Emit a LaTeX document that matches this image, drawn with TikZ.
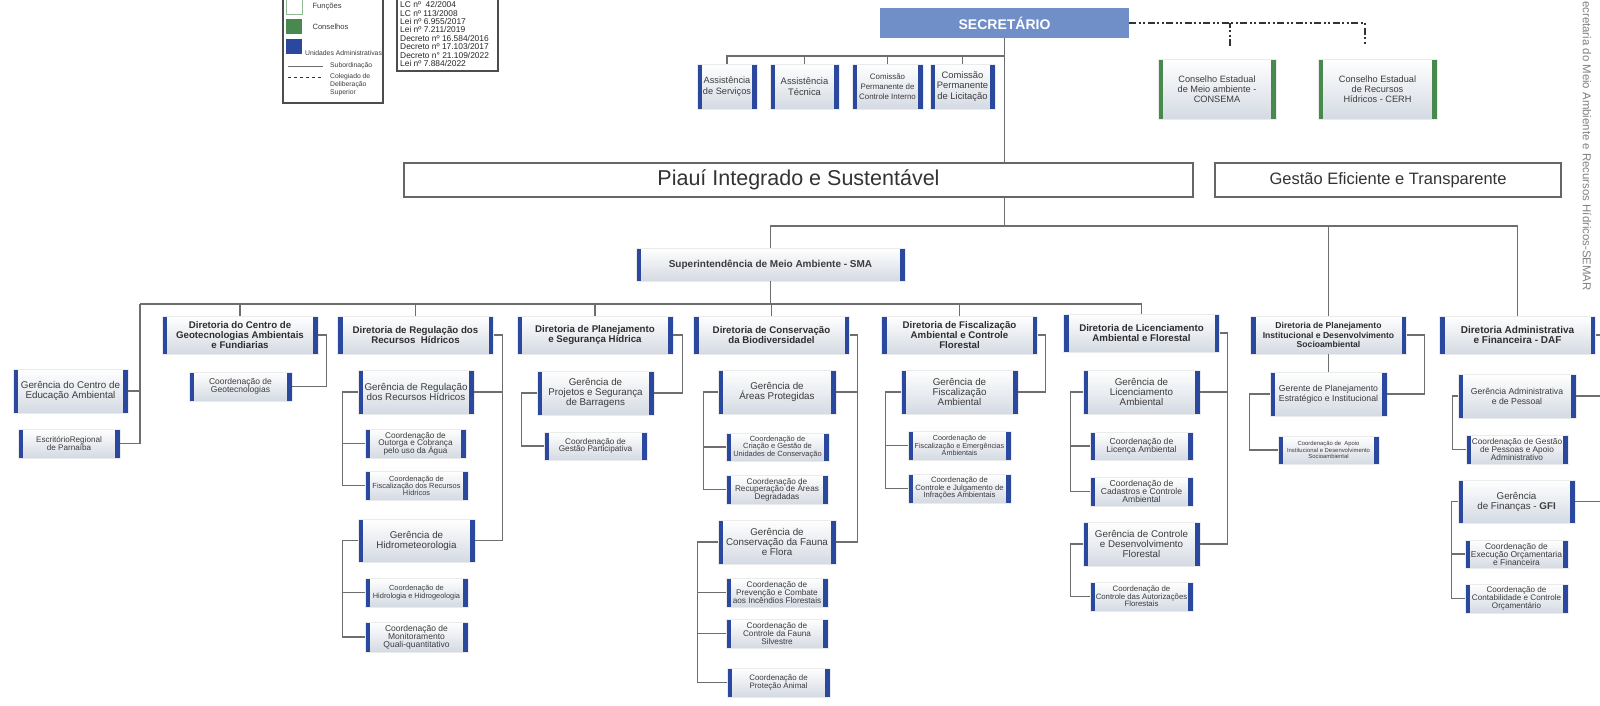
\documentclass[tikz,border=0pt]{standalone}
\usepackage{fontspec}
\setmainfont{Liberation Sans}
\usetikzlibrary{calc}

\definecolor{barblue}{RGB}{42,72,158}
\definecolor{bargreen}{RGB}{72,138,78}
\definecolor{secblue}{RGB}{112,142,200}
\definecolor{boxshade}{RGB}{212,218,227}
\definecolor{txtgray}{RGB}{60,60,60}
\definecolor{linegray}{RGB}{110,110,110}

\newcommand\cfs[2]{\fontsize{#1}{#2}\selectfont}
\newcommand\dirfont{\fontsize{9.7}{10.3}\selectfont\bfseries}
\newcommand\gerfont{\fontsize{9.8}{10}\selectfont}
\newcommand\coofont{\fontsize{8.2}{7.6}\selectfont}
\lineskiplimit=-50pt

\tikzset{
  link/.style={draw=linegray, line width=1.3pt},
  colleg/.style={draw=black!80, line width=2pt, dash pattern=on 7pt off 2.5pt on 2pt off 2.5pt on 2pt off 2.5pt},
  sz/.style 2 args={minimum width=#1pt, minimum height=#2pt},
  unit/.style={rectangle, inner sep=0pt, align=center, text=txtgray,
    top color=white, bottom color=boxshade, draw=black!8, line width=0.5pt,
    path picture={
      \fill[#1] (path picture bounding box.north west) rectangle ([xshift=5pt]path picture bounding box.south west);
      \fill[#1] (path picture bounding box.north east) rectangle ([xshift=-5pt]path picture bounding box.south east);
    }},
  unit/.default=barblue,
  dir/.style={unit, sz={156}{38}, font=\dirfont, text=black!82},
  ger/.style={unit, sz={117}{44}, font=\gerfont},
  coo/.style={unit, sz={103}{29}, font=\coofont},
  frame/.style={draw=black!70, line width=1.3pt, fill=white},
  bigbox/.style={draw=black!60, line width=1.1pt, fill=white, inner sep=0pt, text=black!80}
}

\begin{document}
\begin{tikzpicture}[x=1pt, y=-1pt]
\useasboundingbox (0,0) rectangle (1600,705);
\fill[white] (0,0) rectangle (1600,705);

%%%%% LEGENDA %%%%%
\draw[frame] (283,-20) rectangle (383,103);
\node[draw=bargreen!60, fill=white, line width=0.8pt, sz={16}{15}, inner sep=0pt] (sqfun) at (294,7) {};
\node[fill=bargreen, sz={16}{15}, inner sep=0pt] (sqcon) at (294,26.5) {};
\node[fill=barblue, sz={16}{15}, inner sep=0pt] (squni) at (294,46) {};
\node[anchor=west, font=\cfs{7.6}{8}, text=txtgray] (lfun) at (309,7) {Funções};
\node[anchor=west, font=\cfs{7.6}{8}, text=txtgray] (lcon) at (309,27) {Conselhos};
\node[anchor=west, font=\cfs{6.8}{7}, text=txtgray, inner sep=0pt] (luni) at (305,53) {Unidades Administrativas};
\draw[linegray, line width=0.8pt] (288,66) -- (323,66);
\node[anchor=west, font=\cfs{6.8}{7}, text=txtgray, inner sep=0pt] (lsub) at (330,66) {Subordinação};
\draw[black!80, line width=0.8pt, dashed] (288,77) -- (323,77);
\node[anchor=north west, align=left, font=\cfs{6.8}{8.3}, text=txtgray, inner sep=0pt] (lcol) at (330,73) {Colegiado de\\Deliberação\\Superior};

%%%%% LEGISLACAO %%%%%
\draw[frame] (397,-20) rectangle (498,71);
\node[anchor=north west, align=left, inner sep=0pt, font=\cfs{8.4}{8.4}, text=black!85] (leis) at (400,1.5)
  {LC nº\ \ 42/2004\\LC nº 113/2008\\Lei nº 6.955/2017\\Lei nº 7.211/2019\\Decreto nº 16.584/2016\\Decreto nº 17.103/2017\\Decreto n° 21.109/2022\\Lei nº 7.884/2022};

%%%%% SECRETARIO %%%%%
\node[fill=secblue, text=white, font=\cfs{14}{14}\bfseries, sz={249}{30}, inner sep=0pt] (sec) at (1004.5,23) {SECRETÁRIO};

\node[unit, sz={60}{45}, font=\cfs{9.2}{10.6}] (asserv) at (727,86.5) {Assistência\\de Serviços};
\node[unit, sz={69}{45}, font=\cfs{9.4}{10.6}] (asstec) at (804.5,86.5) {Assistência\\Técnica};
\node[unit, sz={71}{45}, font=\cfs{7.9}{9.8}] (cpci) at (887.5,86.5) {Comissão\\Permanente de\\Controle Interno};
\node[unit, sz={65}{45}, font=\cfs{9.4}{10.4}] (cpl) at (962.5,86.5) {Comissão\\Permanente\\de Licitação};

\node[unit=bargreen, sz={118}{60}, font=\cfs{9.2}{10}] (consema) at (1217,89) {Conselho Estadual\\de Meio ambiente -\\CONSEMA};
\node[unit=bargreen, sz={119}{60}, font=\cfs{9.2}{10}] (cerh) at (1377.5,89) {Conselho Estadual\\de Recursos\\Hídricos - CERH};

\coordinate (tk1) at (1230,46);
\coordinate (tk2) at (1365,46);
\draw[colleg] (sec.east) -| (tk2);
\draw[colleg] (tk1) -- (tk1 |- sec.east);

%%%%% PROGRAMAS %%%%%
\node[bigbox, sz={789}{34}, font=\cfs{21.5}{21.5}] (piaui) at (798.5,180) {Piauí Integrado e Sustentável};
\node[bigbox, sz={346}{34}, font=\cfs{16.5}{16.5}] (gestao) at (1388,180) {Gestão Eficiente e Transparente};

\coordinate (ay) at (0,56);
\draw[link] (sec.south) -- (sec.south |- piaui.north);
\draw[link] (asserv.north) |- (sec.south |- ay);
\foreach \n in {asstec,cpci,cpl} \draw[link] (\n.north) -- (\n.north |- ay);

\node[unit, sz={269}{33}, font=\cfs{10}{10}\bfseries] (sma) at (770.5,264.5) {Superintendência de Meio Ambiente - SMA};

%%%%% DIRETORIAS %%%%%
\node[dir] (dgeo) at (240,335) {Diretoria do Centro de\\Geotecnologias Ambientais\\e Fundiarias};
\node[dir] (dreg) at (415.5,335) {Diretoria de Regulação dos\\Recursos\ \ Hídricos};
\node[dir] (dpsh) at (595,335) {Diretoria de Planejamento\\e Segurança Hídrica};
\node[dir] (dcb) at (771.5,335) {Diretoria de Conservação\\da Biodiversidadel};
\node[dir] (dfis) at (959.5,335) {Diretoria de Fiscalização\\Ambiental e Controle\\Florestal};
\node[dir] (dlic) at (1141.5,333) {Diretoria de Licenciamento\\Ambiental e Florestal};
\node[dir, font=\cfs{8.6}{9.4}\bfseries] (dpi) at (1328.5,335) {Diretoria de Planejamento\\Institucional e Desenvolvimento\\Socioambiental};
\node[dir, font=\cfs{10}{10.6}\bfseries] (daf) at (1517.5,335) {Diretoria Administrativa\\e Financeira - DAF};

\coordinate (hub) at (1004.5,226);
\draw[link] (piaui.south -| hub) -- (hub);
\draw[link] (sma.north) |- (hub) -| (daf.north);
\draw[link] (dpi.north) -- (dpi.north |- hub);

\coordinate (busL) at (140,304);
\draw[link] (sma.south) -- (sma.south |- busL);
\draw[link] (busL) -- (busL -| dlic.north);
\foreach \n in {dgeo,dreg,dpsh,dcb,dfis,dlic} \draw[link] (\n.north) -- (\n.north |- busL);

%%%%% EDUCACAO AMBIENTAL %%%%%
\node[unit, sz={115}{44}, font=\gerfont] (gcea) at (70.5,391) {Gerência do Centro de\\Educação Ambiental};
\node[coo, sz={102}{29}, font=\cfs{8.1}{7.8}] (escr) at (69,443.5) {EscritórioRegional\\de Parnaíba};
\draw[link] (busL) |- (gcea.east);
\draw[link] (busL) |- (escr.east);

%%%%% GEOTECNOLOGIAS %%%%%
\node[coo, font=\cfs{8.5}{8.2}] (cgeo) at (240.5,386.5) {Coordenação de\\Geotecnologias};
\draw[link] (dgeo.east) -- ++(8,0) |- (cgeo.east);

%%%%% REGULACAO %%%%%
\node[ger, sz={116}{44}] (greg) at (416,392) {Gerência de Regulação\\dos Recursos Hídricos};
\node[coo, sz={101}{29}] (cout) at (415.5,443.5) {Coordenação de\\Outorga e Cobrança\\pelo uso da Água};
\node[coo, font=\cfs{7.4}{7}] (cfrh) at (416.5,485.5) {Coordenação de\\Fiscalização dos Recursos\\Hídricos};
\node[ger, sz={117}{43}] (ghid) at (416.5,540.5) {Gerência de\\Hidrometeorologia};
\node[coo, font=\cfs{7.4}{7.6}] (chh) at (416.5,592.5) {Coordenação de\\Hidrologia e Hidrogeologia};
\node[coo, sz={103}{30}, font=\cfs{8.5}{7.8}] (cmon) at (416.5,637) {Coordenação de\\Monitoramento\\Quali-quantitativo};
\draw[link] (dreg.east) -- ++(9,0) |- (greg.east);
\draw[link] (dreg.east) -- ++(9,0) |- (ghid.east);
\draw[link] (greg.west) -- ++(-15,0) |- (cout.west);
\draw[link] (greg.west) -- ++(-15,0) |- (cfrh.west);
\draw[link] (ghid.west) -- ++(-15,0) |- (chh.west);
\draw[link] (ghid.west) -- ++(-15,0) |- (cmon.west);

%%%%% SEGURANCA HIDRICA %%%%%
\node[ger] (gpsb) at (595.5,393) {Gerência de\\Projetos e Segurança\\de Barragens};
\node[coo, sz={103}{28}] (cgp) at (595.5,446) {Coordenação de\\Gestão Participativa};
\draw[link] (dpsh.east) -- ++(9,0) |- (gpsb.east);
\draw[link] (gpsb.west) -- ++(-15,0) |- (cgp.west);

%%%%% BIODIVERSIDADE %%%%%
\node[ger, sz={118}{44}] (gap) at (777,392) {Gerência de\\Áreas Protegidas};
\node[coo, sz={103}{28}, font=\cfs{7.5}{7.4}] (ccg) at (777.5,447) {Coordenação de\\Criação e Gestão de\\Unidades de Conservação};
\node[coo, sz={102}{29}] (crad) at (777,489.5) {Coordenação de\\Recuperação de Áreas\\Degradadas};
\node[ger, sz={118}{44}] (gcff) at (777,542) {Gerência de\\Conservação da Fauna\\e Flora};
\node[coo, sz={102}{29}] (cpre) at (777,592.5) {Coordenação de\\Prevenção e Combate\\aos Incêndios Florestais};
\node[coo, sz={102}{29}] (ccfs) at (777,633.5) {Coordenação de\\Controle da Fauna\\Silvestre};
\node[coo, font=\cfs{7.9}{8.2}] (cpa) at (778.5,682.5) {Coordenação de\\Proteção Animal};
\draw[link] (dcb.east) -- ++(8,0) |- (gap.east);
\draw[link] (dcb.east) -- ++(8,0) |- (gcff.east);
\draw[link] (gap.west) -- ++(-14,0) |- (ccg.west);
\draw[link] (gap.west) -- ++(-14,0) |- (crad.west);
\draw[link] (gcff.west) -- ++(-20,0) |- (cpre.west);
\draw[link] (gcff.west) -- ++(-20,0) |- (ccfs.west);
\draw[link] (gcff.west) -- ++(-20,0) |- (cpa.west);

%%%%% FISCALIZACAO %%%%%
\node[ger] (gfa) at (959.5,392) {Gerência de\\Fiscalização\\Ambiental};
\node[coo, font=\cfs{7.2}{7.2}] (cfea) at (959.5,445.5) {Coordenação de\\Fiscalização e Emergências\\Ambientais};
\node[coo, font=\cfs{7.7}{7.5}] (ccji) at (959.5,488.5) {Coordenação de\\Controle e Julgamento de\\Infrações Ambientais};
\draw[link] (dfis.east) -- ++(8,0) |- (gfa.east);
\draw[link] (gfa.west) -- ++(-15,0) |- (cfea.west);
\draw[link] (gfa.west) -- ++(-15,0) |- (ccji.west);

%%%%% LICENCIAMENTO %%%%%
\node[ger] (gla) at (1141.5,392) {Gerência de\\Licenciamento\\Ambiental};
\node[coo, sz={103}{28}, font=\cfs{8.6}{8.4}] (cla) at (1141.5,446) {Coordenação de\\Licença Ambiental};
\node[coo, font=\cfs{8.6}{8.2}] (ccca) at (1141.5,491.5) {Coordenação de\\Cadastros e Controle\\Ambiental};
\node[ger] (gcdf) at (1141.5,544) {Gerência de Controle\\e Desenvolvimento\\Florestal};
\node[coo, font=\cfs{7.8}{7.6}] (ccaf) at (1141.5,596.5) {Coordenação de\\Controle das Autorizações\\Florestais};
\draw[link] (dlic.east) -- ++(8,0) |- (gla.east);
\draw[link] (dlic.east) -- ++(8,0) |- (gcdf.east);
\draw[link] (gla.west) -- ++(-12,0) |- (cla.west);
\draw[link] (gla.west) -- ++(-12,0) |- (ccca.west);
\draw[link] (gcdf.west) -- ++(-12,0) |- (ccaf.west);

%%%%% PLANEJAMENTO INSTITUCIONAL %%%%%
\node[ger, font=\cfs{8.7}{9.6}] (gpe) at (1328.5,394) {Gerente de Planejamento\\Estratégico e Institucional};
\node[coo, sz={101}{28}, font=\cfs{5.9}{6.2}] (cai) at (1328.5,450) {Coordenação de\ \ Apoio\\Institucional e Desenvolvimento\\Socioambiental};
\draw[link] (dpi.south) -- (gpe.north);
\draw[link] (dpi.east) -- ++(18,0) |- (gpe.east);
\draw[link] (gpe.west) -- ++(-20,0) |- (cai.west);

%%%%% DAF %%%%%
\node[ger, sz={118}{44}, font=\cfs{8.7}{9.8}] (gad) at (1517,396) {Gerência Administrativa\\e de Pessoal};
\node[coo, sz={102}{29}, font=\cfs{8.3}{8}] (cgpa) at (1517,449.5) {Coordenação de Gestão\\de Pessoas e Apoio\\Administrativo};
\node[ger, sz={117}{43}] (gfi) at (1516.5,501.5) {Gerência\\de Finanças - \textbf{GFI}};
\node[coo, sz={103}{28}, font=\cfs{8.5}{8}] (ceof) at (1516.5,554) {Coordenação de\\Execução Orçamentaria\\e Financeira};
\node[coo, font=\cfs{8.1}{7.9}] (ccco) at (1516.5,598.5) {Coordenação de\\Contabilidade e Controle\\Orçamentário};
\draw[link] (daf.east) -- ++(12,0) |- (gad.east);
\draw[link] (daf.east) -- ++(12,0) |- (gfi.east);
\draw[link] (gad.west) -- ++(-5,0) |- (cgpa.west);
\draw[link] (gfi.west) -- ++(-6,0) |- (ceof.west);
\draw[link] (gfi.west) -- ++(-6,0) |- (ccco.west);

\node[rotate=-90, anchor=east, font=\cfs{11.4}{12}, text=black!50, inner sep=0pt] (semar) at (1587,291) {Secretaria do Meio Ambiente e Recursos Hídricos-SEMAR};

\end{tikzpicture}
\end{document}
